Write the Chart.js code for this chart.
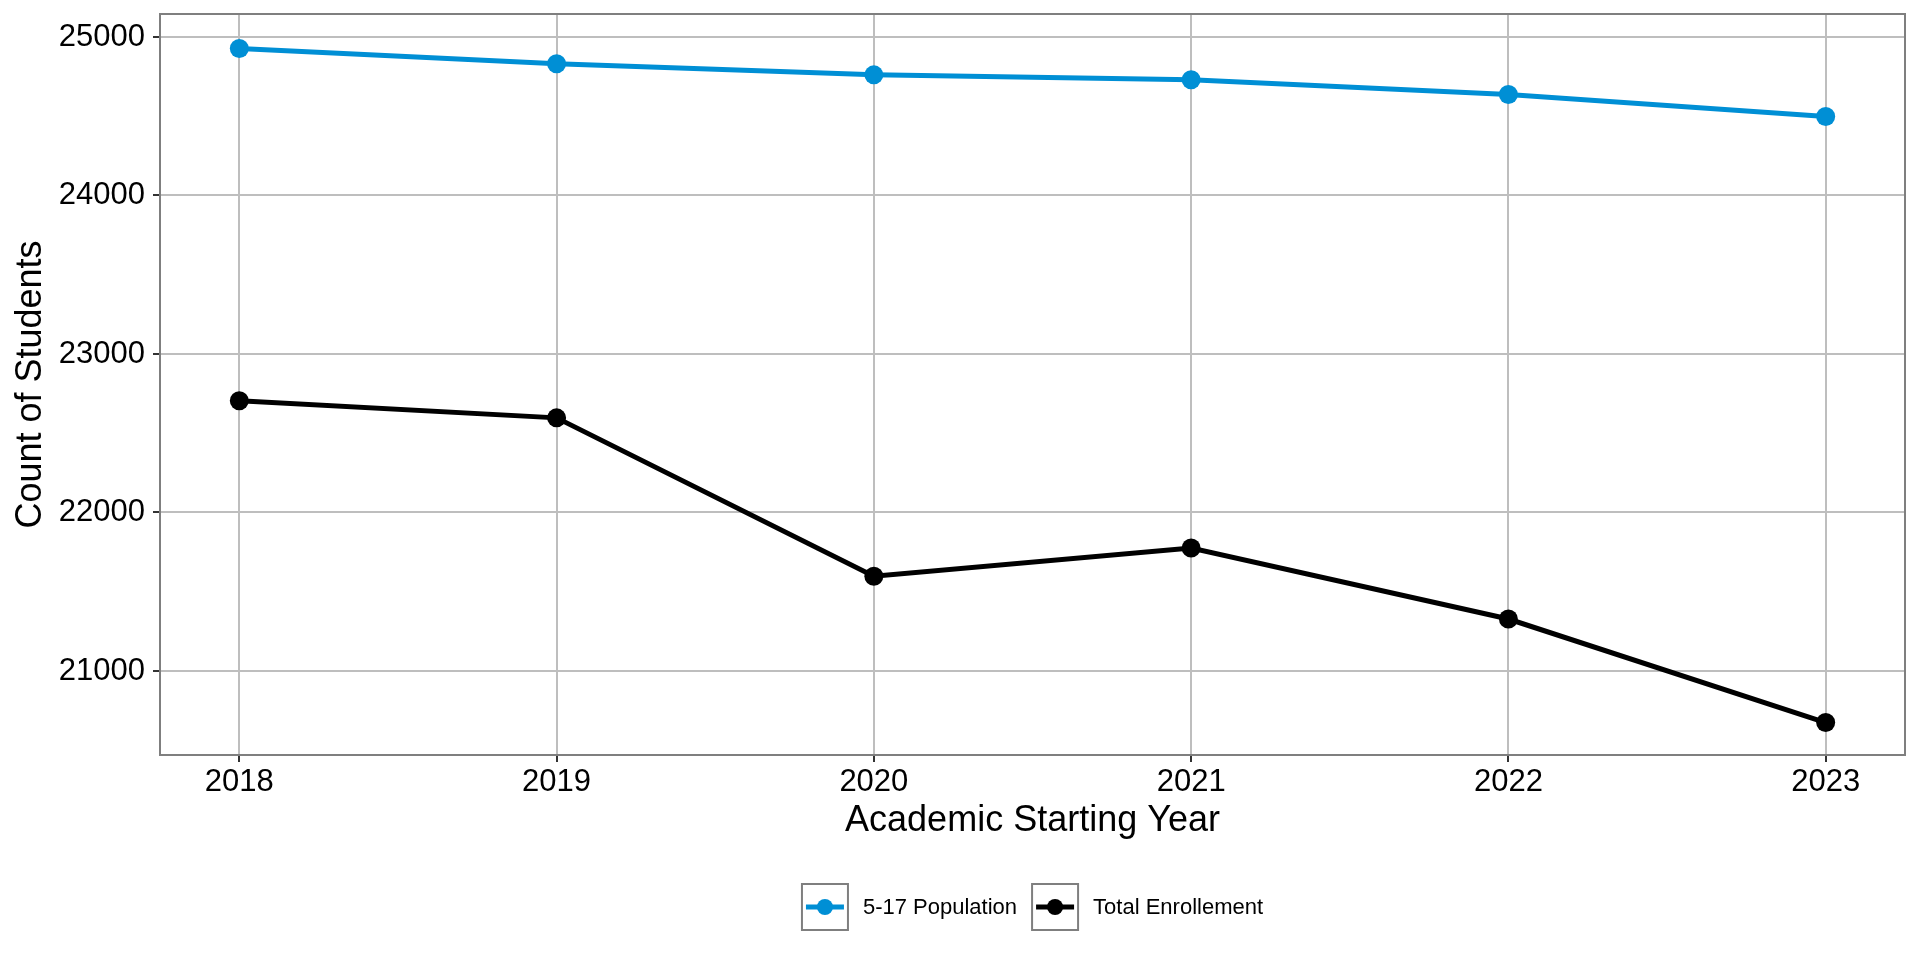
<!DOCTYPE html>
<html>
<head>
<meta charset="utf-8">
<script src="https://cdn.jsdelivr.net/npm/chart.js@4.4.1/dist/chart.umd.min.js"></script>
<style>
  html, body { margin: 0; padding: 0; background: #fff; }
  #wrap { width: 1920px; height: 960px; }
</style>
</head>
<body>
<div id="wrap"><canvas id="studentChart" width="1920" height="960"></canvas></div>
<script>
// values
const years = [2018, 2019, 2020, 2021, 2022, 2023];
const population517 = [24927, 24831, 24761, 24730, 24637, 24498];
const totalEnrollment = [22705, 22597, 21598, 21776, 21328, 20675];
const seriesNames = ["5-17 Population", "Total Enrollement"];
const yTickValues = [21000, 22000, 23000, 24000, 25000];

const blue = "#008fd5";
const black = "#000000";
const font = "'Liberation Sans', Arial, sans-serif";

function toPoints(vals) {
  return years.map((yr, i) => ({ x: yr, y: vals[i] }));
}

// panel border + boxed legend like the original
const panelAndLegend = {
  id: "panelAndLegend",
  afterDraw(chart) {
    const ctx = chart.ctx;
    const a = chart.chartArea;
    ctx.save();
    ctx.strokeStyle = "#7f7f7f";
    ctx.lineWidth = 2;
    ctx.strokeRect(a.left, a.top, a.right - a.left, a.bottom - a.top);

    ctx.font = "22px " + font;
    const keySize = 46;
    const gap = 15;
    const items = chart.data.datasets.map((ds) => ({
      label: ds.label,
      color: ds.borderColor,
      w: ctx.measureText(ds.label).width,
    }));
    let total = 0;
    items.forEach((it) => (total += keySize + gap + it.w + gap));
    let x = 1040 - total / 2;
    const top = 884;
    const mid = top + keySize / 2;
    items.forEach((it) => {
      ctx.strokeStyle = "#7f7f7f";
      ctx.lineWidth = 2;
      ctx.strokeRect(x, top, keySize, keySize);
      ctx.strokeStyle = it.color;
      ctx.lineWidth = 5;
      ctx.beginPath();
      ctx.moveTo(x + 4, mid);
      ctx.lineTo(x + keySize - 4, mid);
      ctx.stroke();
      ctx.fillStyle = it.color;
      ctx.beginPath();
      ctx.arc(x + keySize / 2, mid, 8, 0, Math.PI * 2);
      ctx.fill();
      ctx.fillStyle = "#000";
      ctx.textBaseline = "middle";
      ctx.textAlign = "left";
      ctx.fillText(it.label, x + keySize + gap, mid + 1);
      x += keySize + gap + it.w + gap;
    });
    ctx.restore();
  },
};

const datasets = [
  {
    label: seriesNames[0],
    data: toPoints(population517),
    borderColor: blue,
    backgroundColor: blue,
    borderWidth: 5,
    pointRadius: 9.5,
    pointBorderWidth: 0,
  },
  {
    label: seriesNames[1],
    data: toPoints(totalEnrollment),
    borderColor: black,
    backgroundColor: black,
    borderWidth: 5,
    pointRadius: 9.5,
    pointBorderWidth: 0,
  },
];

const config = {
  type: "line",
  data: { datasets },
  options: {
    responsive: false,
    animation: false,
    devicePixelRatio: 1,
    layout: { padding: { top: 14, right: 15, bottom: 100, left: 0 } },
    plugins: { legend: { display: false }, tooltip: { enabled: false } },
    scales: {
      x: {
        type: "linear",
        min: 2017.75,
        max: 2023.25,
        afterBuildTicks: (s) => {
          s.ticks = years.map((v) => ({ value: v }));
        },
        afterFit: (s) => {
          s.height = 105;
        },
        ticks: {
          callback: (v) => String(v),
          color: "#000",
          font: { family: font, size: 31 },
          padding: 2,
          maxRotation: 0,
        },
        grid: { color: "#bebebe", lineWidth: 2, tickColor: "#333", tickLength: 7 },
        border: { display: false },
        title: {
          display: true,
          text: "Academic Starting Year",
          color: "#000",
          font: { family: font, size: 36 },
          padding: { top: 0, bottom: 17 },
        },
      },
      y: {
        min: 20470,
        max: 25145,
        afterBuildTicks: (s) => {
          s.ticks = yTickValues.map((v) => ({ value: v }));
        },
        afterFit: (s) => {
          s.width = 160;
          s.paddingTop = 0;
          s.paddingBottom = 0;
        },
        ticks: {
          callback: (v) => String(v),
          color: "#000",
          font: { family: font, size: 31 },
          padding: 8,
        },
        grid: { color: "#bebebe", lineWidth: 2, tickColor: "#333", tickLength: 7 },
        border: { display: false },
        title: {
          display: true,
          text: "Count of Students",
          color: "#000",
          font: { family: font, size: 36 },
          padding: { top: 9, bottom: 0 },
        },
      },
    },
  },
  plugins: [panelAndLegend],
};

new Chart(document.getElementById("studentChart"), config);
</script>
</body>
</html>
